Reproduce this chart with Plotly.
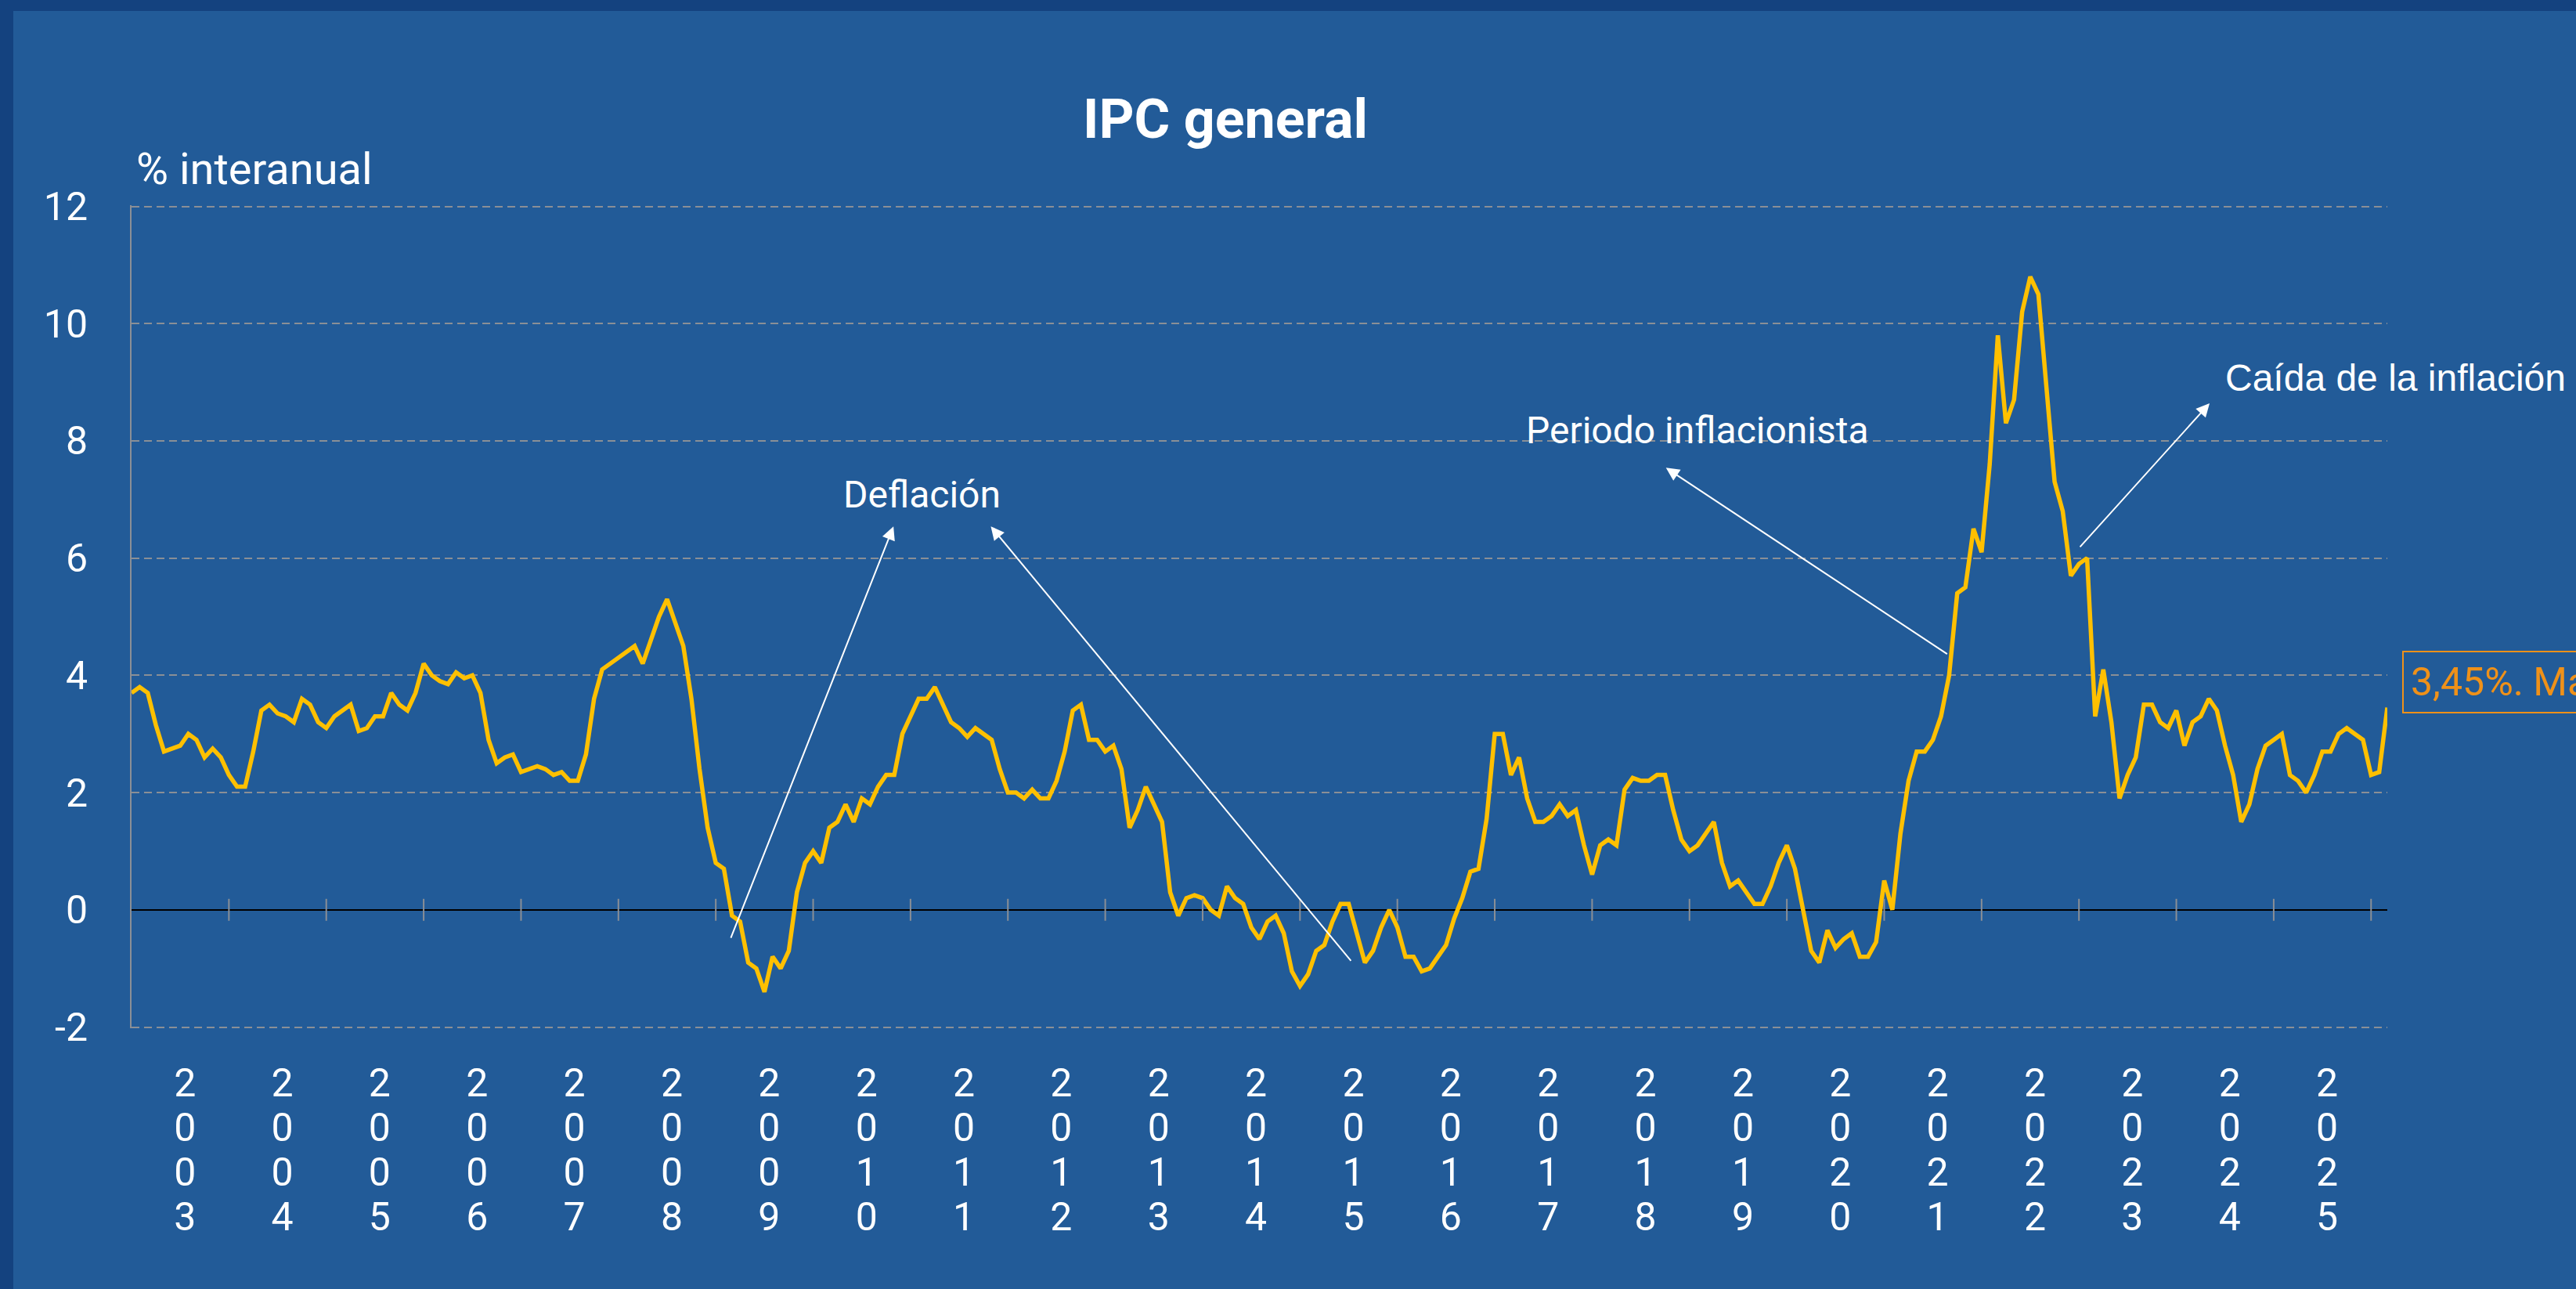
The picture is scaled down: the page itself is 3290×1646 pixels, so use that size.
import plotly.graph_objects as go

# ---------------- data (IPC general, % interanual, monthly) ----------------
ipc_2003 = [3.7, 3.8, 3.7, 3.15, 2.7, 2.75, 2.8, 3.0, 2.9, 2.6, 2.75, 2.6]
ipc_2004 = [2.3, 2.1, 2.1, 2.7, 3.4, 3.5, 3.35, 3.3, 3.2, 3.6, 3.5, 3.2]
ipc_2005 = [3.1, 3.3, 3.4, 3.5, 3.05, 3.1, 3.3, 3.3, 3.7, 3.5, 3.4, 3.7]
ipc_2006 = [4.2, 4.0, 3.9, 3.85, 4.05, 3.95, 4.0, 3.7, 2.9, 2.5, 2.6, 2.65]
ipc_2007 = [2.35, 2.4, 2.45, 2.4, 2.3, 2.35, 2.2, 2.2, 2.65, 3.6, 4.1, 4.2]
ipc_2008 = [4.3, 4.4, 4.5, 4.2, 4.6, 5.0, 5.3, 4.9, 4.5, 3.6, 2.4, 1.4]
ipc_2009 = [0.8, 0.7, -0.1, -0.2, -0.9, -1.0, -1.4, -0.8, -1.0, -0.7, 0.3, 0.8]
ipc_2010 = [1.0, 0.8, 1.4, 1.5, 1.8, 1.5, 1.9, 1.8, 2.1, 2.3, 2.3, 3.0]
ipc_2011 = [3.3, 3.6, 3.6, 3.8, 3.5, 3.2, 3.1, 2.95, 3.1, 3.0, 2.9, 2.4]
ipc_2012 = [2.0, 2.0, 1.9, 2.05, 1.9, 1.9, 2.2, 2.7, 3.4, 3.5, 2.9, 2.9]
ipc_2013 = [2.7, 2.8, 2.4, 1.4, 1.7, 2.1, 1.8, 1.5, 0.3, -0.1, 0.2, 0.25]
ipc_2014 = [0.2, 0.0, -0.1, 0.4, 0.2, 0.1, -0.3, -0.5, -0.2, -0.1, -0.4, -1.05]
ipc_2015 = [-1.3, -1.1, -0.7, -0.6, -0.2, 0.1, 0.1, -0.4, -0.9, -0.7, -0.3, 0.0]
ipc_2016 = [-0.3, -0.8, -0.8, -1.05, -1.0, -0.8, -0.6, -0.15, 0.2, 0.65, 0.7, 1.55]
ipc_2017 = [3.0, 3.0, 2.3, 2.6, 1.9, 1.5, 1.5, 1.6, 1.8, 1.6, 1.7, 1.1]
ipc_2018 = [0.6, 1.1, 1.2, 1.1, 2.05, 2.25, 2.2, 2.2, 2.3, 2.3, 1.7, 1.2]
ipc_2019 = [1.0, 1.1, 1.3, 1.5, 0.8, 0.4, 0.5, 0.3, 0.1, 0.1, 0.4, 0.8]
ipc_2020 = [1.1, 0.7, 0.0, -0.7, -0.9, -0.35, -0.65, -0.5, -0.4, -0.8, -0.8, -0.55]
ipc_2021 = [0.5, 0.0, 1.3, 2.2, 2.7, 2.7, 2.9, 3.3, 4.0, 5.4, 5.5, 6.5]
ipc_2022 = [6.1, 7.6, 9.8, 8.3, 8.7, 10.2, 10.8, 10.5, 8.9, 7.3, 6.8, 5.7]
ipc_2023 = [5.9, 6.0, 3.3, 4.1, 3.2, 1.9, 2.3, 2.6, 3.5, 3.5, 3.2, 3.1]
ipc_2024 = [3.4, 2.8, 3.2, 3.3, 3.6, 3.4, 2.8, 2.3, 1.5, 1.8, 2.4, 2.8]
ipc_2025 = [2.9, 3.0, 2.3, 2.2, 2.0, 2.3, 2.7, 2.7, 3.0, 3.1, 3.0, 2.9]
ipc_2026 = [2.3, 2.35, 3.45]

series_by_year = [ipc_2003, ipc_2004, ipc_2005, ipc_2006, ipc_2007, ipc_2008,
                  ipc_2009, ipc_2010, ipc_2011, ipc_2012, ipc_2013, ipc_2014,
                  ipc_2015, ipc_2016, ipc_2017, ipc_2018, ipc_2019, ipc_2020,
                  ipc_2021, ipc_2022, ipc_2023, ipc_2024, ipc_2025, ipc_2026]
first_year = 2003
label_years = list(range(2003, 2026))          # years shown on the axis
boundary_years = list(range(2004, 2027))       # year-start tick marks on the 0 line
y_ticks = [-2, 0, 2, 4, 6, 8, 10, 12]
y_ticktext = ["-2", "0", "2", "4", "6", "8", "10", "12"]

last_value_label = "3,45%. Marzo 2026"

# category labels and values
months, values = [], []
for i, vals in enumerate(series_by_year):
    for m, v in enumerate(vals):
        months.append(f"{first_year + i}-{m + 1:02d}")
        values.append(v)

label_pos = [months.index(f"{y}-07") for y in label_years]
boundary_x = [f"{y}-01" for y in boundary_years]

# annotation anchor points (category index, value)
arrows = [  # (head_x, head_y, tail_x, tail_y)
    (93.9, 6.54, 73.8, -0.50),
    (105.9, 6.54, 150.4, -0.89),
    (189.1, 7.54, 223.9, 4.35),
    (256.1, 8.64, 240.0, 6.17),
]

# ---------------- style ----------------
W, H = 3290, 1646
ML, MR, MT, MB = 168, 241, 262, 333
BG = "#225B98"
BORDER = "#14427F"
GOLD = "#FFC000"
GRID = "#8A8F96"
ORANGE = "#EF9119"
FONT = "Roboto"
XLAB_SIZE = 50
XLAB_START = 36
XLAB_PITCH = 57
Y_PAD = 0.02   # tiny range padding so the end gridlines (-2 and 12) are drawn

pw, ph = W - ML - MR, H - MT - MB
def px_x(p):
    return (p - ML) / pw
def px_y(p):
    return (H - MB - p) / ph

fig = go.Figure()

fig.add_trace(go.Scatter(
    x=months, y=values, mode="lines",
    line=dict(color=GOLD, width=5.5),
    hovertemplate="%{x}: %{y:.2f}%<extra></extra>",
    showlegend=False,
))

fig.add_trace(go.Scatter(
    x=boundary_x, y=[0] * len(boundary_x), mode="markers",
    marker=dict(symbol="line-ns", size=20, color=GRID,
                line=dict(color=GRID, width=2)),
    hoverinfo="skip", showlegend=False,
))

annotations = []
for hx, hy, tx, ty in arrows:
    annotations.append(dict(
        x=hx, y=hy, ax=tx, ay=ty, xref="x", yref="y", axref="x", ayref="y",
        text="", showarrow=True, arrowhead=2, arrowsize=1.7, arrowwidth=2,
        arrowcolor="white", standoff=0, startstandoff=0,
    ))

annotations += [
    dict(x=97.4, y=7.08, xref="x", yref="y", text="Deflación", showarrow=False,
         font=dict(family=FONT, size=48, color="white"), xanchor="center", yanchor="middle"),
    dict(x=193.0, y=8.18, xref="x", yref="y", text="Periodo inflacionista", showarrow=False,
         font=dict(family=FONT, size=48, color="white"), xanchor="center", yanchor="middle"),
    dict(x=257.8, y=9.07, xref="x", yref="y", text="Caída de la inflación", showarrow=False,
         font=dict(family="Liberation Sans", size=48, color="white"), xanchor="left", yanchor="middle"),
    dict(x=len(values) - 1, y=values[-1], xref="x", yref="y", text=last_value_label,
         showarrow=False, font=dict(family=FONT, size=50, color=ORANGE),
         xanchor="left", yanchor="middle", xshift=19, yshift=33,
         bordercolor=ORANGE, borderwidth=2, borderpad=9),
    dict(x=0, y=1, xref="paper", yref="paper", text="% interanual", showarrow=False,
         font=dict(family=FONT, size=56, color="white"), xanchor="left", yanchor="middle",
         xshift=4, yshift=46),
]

shapes = [
    dict(type="rect", xref="paper", yref="paper", layer="below",
         x0=px_x(0), x1=px_x(17), y0=px_y(H), y1=px_y(0),
         fillcolor=BORDER, line=dict(width=0)),
    dict(type="rect", xref="paper", yref="paper", layer="below",
         x0=px_x(0), x1=px_x(W), y0=px_y(14), y1=px_y(0),
         fillcolor=BORDER, line=dict(width=0)),
]

# stacked year labels: one axis row per digit (row 0 on the main axis)
digit_rows = [[str(y)[r] for y in label_years] for r in range(4)]

layout_axes = {}
layout_axes["xaxis"] = dict(
    type="category", categoryorder="array", categoryarray=months,
    range=[0, len(months) - 1], showgrid=False, zeroline=False,
    showline=False, ticks="", tickmode="array",
    tickvals=[months[p] for p in label_pos], ticktext=digit_rows[0], ticklabelshift=6,
    tickfont=dict(family=FONT, size=XLAB_SIZE, color="white"),
    ticklabelstandoff=XLAB_START)
for r in range(1, 4):
    name = f"xaxis{r + 1}"
    layout_axes[name] = dict(
        type="linear", overlaying="x", anchor="y", side="bottom",
        range=[0, len(months) - 1], showgrid=False, zeroline=False,
        showline=False, ticks="", tickmode="array",
        tickvals=label_pos, ticktext=digit_rows[r], ticklabelshift=6,
        tickfont=dict(family=FONT, size=XLAB_SIZE, color="white"),
        ticklabelstandoff=XLAB_START + r * XLAB_PITCH)
    fig.add_trace(go.Scatter(x=[label_pos[0]], y=[None], xaxis=f"x{r + 1}", yaxis="y",
                             mode="lines", hoverinfo="skip", showlegend=False))

fig.update_layout(
    width=W, height=H, autosize=False,
    margin=dict(l=ML, r=MR, t=MT, b=MB, pad=0),
    paper_bgcolor=BG, plot_bgcolor="rgba(0,0,0,0)",
    font=dict(family=FONT, color="white"),
    title=dict(text="<b>IPC general</b>", x=1565 / W, xref="container", xanchor="center",
               y=1 - 151 / H, yref="container", yanchor="middle",
               font=dict(family=FONT, size=70, color="white")),
    yaxis=dict(range=[y_ticks[0] - Y_PAD, y_ticks[-1] + Y_PAD], tickmode="array",
               tickvals=y_ticks, ticktext=y_ticktext,
               showgrid=True, gridcolor=GRID, gridwidth=2, griddash="10px,6px",
               zeroline=True, zerolinecolor="black", zerolinewidth=2,
               showline=True, linecolor=GRID, linewidth=2, ticks="",
               tickfont=dict(family=FONT, size=50, color="white"),
               ticklabelstandoff=44),
    annotations=annotations, shapes=shapes,
    showlegend=False,
    **layout_axes,
)

fig.write_html(
    "out.html",
    config={"displayModeBar": False},
    post_script=f"document.body.style.margin='0';document.body.style.background='{BG}';",
)
